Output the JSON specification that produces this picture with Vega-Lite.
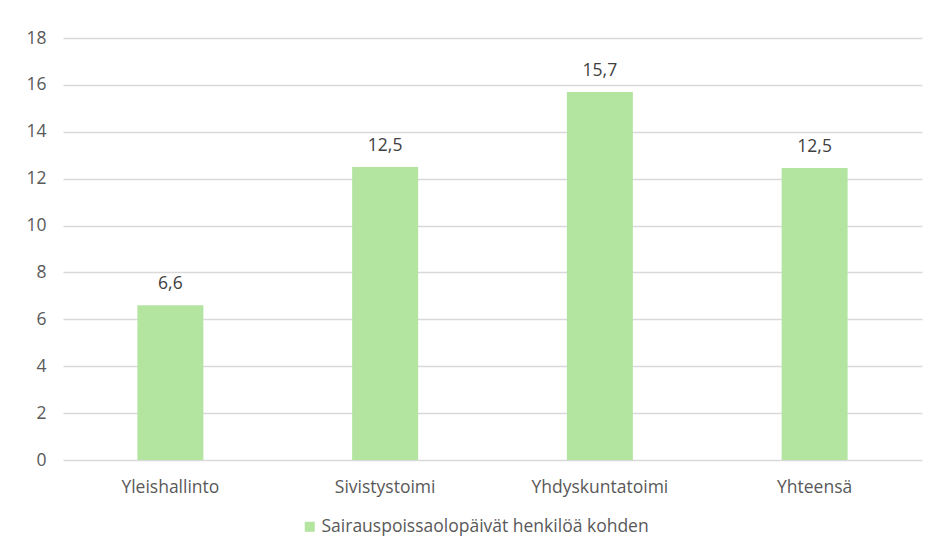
{
  "$schema": "https://vega.github.io/schema/vega-lite/v6.json",
  "width": 859,
  "height": 422,
  "autosize": {"type": "none"},
  "padding": {"left": 63, "top": 38, "right": 16, "bottom": 92},
  "background": "#ffffff",
  "config": {
    "view": {"stroke": null},
    "font": "Open Sans",
    "locale": {
      "number": {"decimal": ",", "thousands": " ", "grouping": [3], "currency": ["", " €"]}
    },
    "axis": {
      "labelFont": "Open Sans",
      "labelFontSize": 17.5,
      "labelColor": "#595959",
      "domain": false,
      "ticks": false,
      "title": null
    },
    "legend": {
      "labelFont": "Open Sans",
      "labelFontSize": 17.5,
      "labelColor": "#595959",
      "labelLimit": 0
    }
  },
  "data": {
    "values": [
      {"yksikko": "Yleishallinto", "paivat": 6.6, "sarja": "Sairauspoissaolopäivät henkilöä kohden"},
      {"yksikko": "Sivistystoimi", "paivat": 12.5, "sarja": "Sairauspoissaolopäivät henkilöä kohden"},
      {"yksikko": "Yhdyskuntatoimi", "paivat": 15.7, "sarja": "Sairauspoissaolopäivät henkilöä kohden"},
      {"yksikko": "Yhteensä", "paivat": 12.46, "sarja": "Sairauspoissaolopäivät henkilöä kohden"}
    ]
  },
  "encoding": {
    "x": {
      "field": "yksikko",
      "type": "nominal",
      "sort": null,
      "axis": {"labelAngle": 0, "labelPadding": 18, "grid": false}
    },
    "y": {
      "field": "paivat",
      "type": "quantitative",
      "scale": {"domain": [0, 18], "nice": false},
      "axis": {
        "values": [0, 2, 4, 6, 8, 10, 12, 14, 16, 18],
        "grid": true,
        "gridColor": "#d9d9d9",
        "gridWidth": 1.3,
        "labelPadding": 17
      }
    }
  },
  "layer": [
    {
      "mark": {"type": "bar", "size": 66},
      "encoding": {
        "color": {
          "field": "sarja",
          "type": "nominal",
          "scale": {"range": ["#b3e5a1"]},
          "legend": {
            "title": null,
            "orient": "none",
            "direction": "horizontal",
            "legendX": 238,
            "legendY": 480,
            "symbolType": "square",
            "symbolSize": 100,
            "symbolStrokeWidth": 0,
            "symbolOpacity": 1,
            "labelOffset": 3
          }
        }
      }
    },
    {
      "mark": {
        "type": "text",
        "dy": -12,
        "baseline": "bottom",
        "fontSize": 17.5,
        "color": "#404040"
      },
      "encoding": {
        "text": {"field": "paivat", "type": "quantitative", "format": ".1f"}
      }
    }
  ]
}
